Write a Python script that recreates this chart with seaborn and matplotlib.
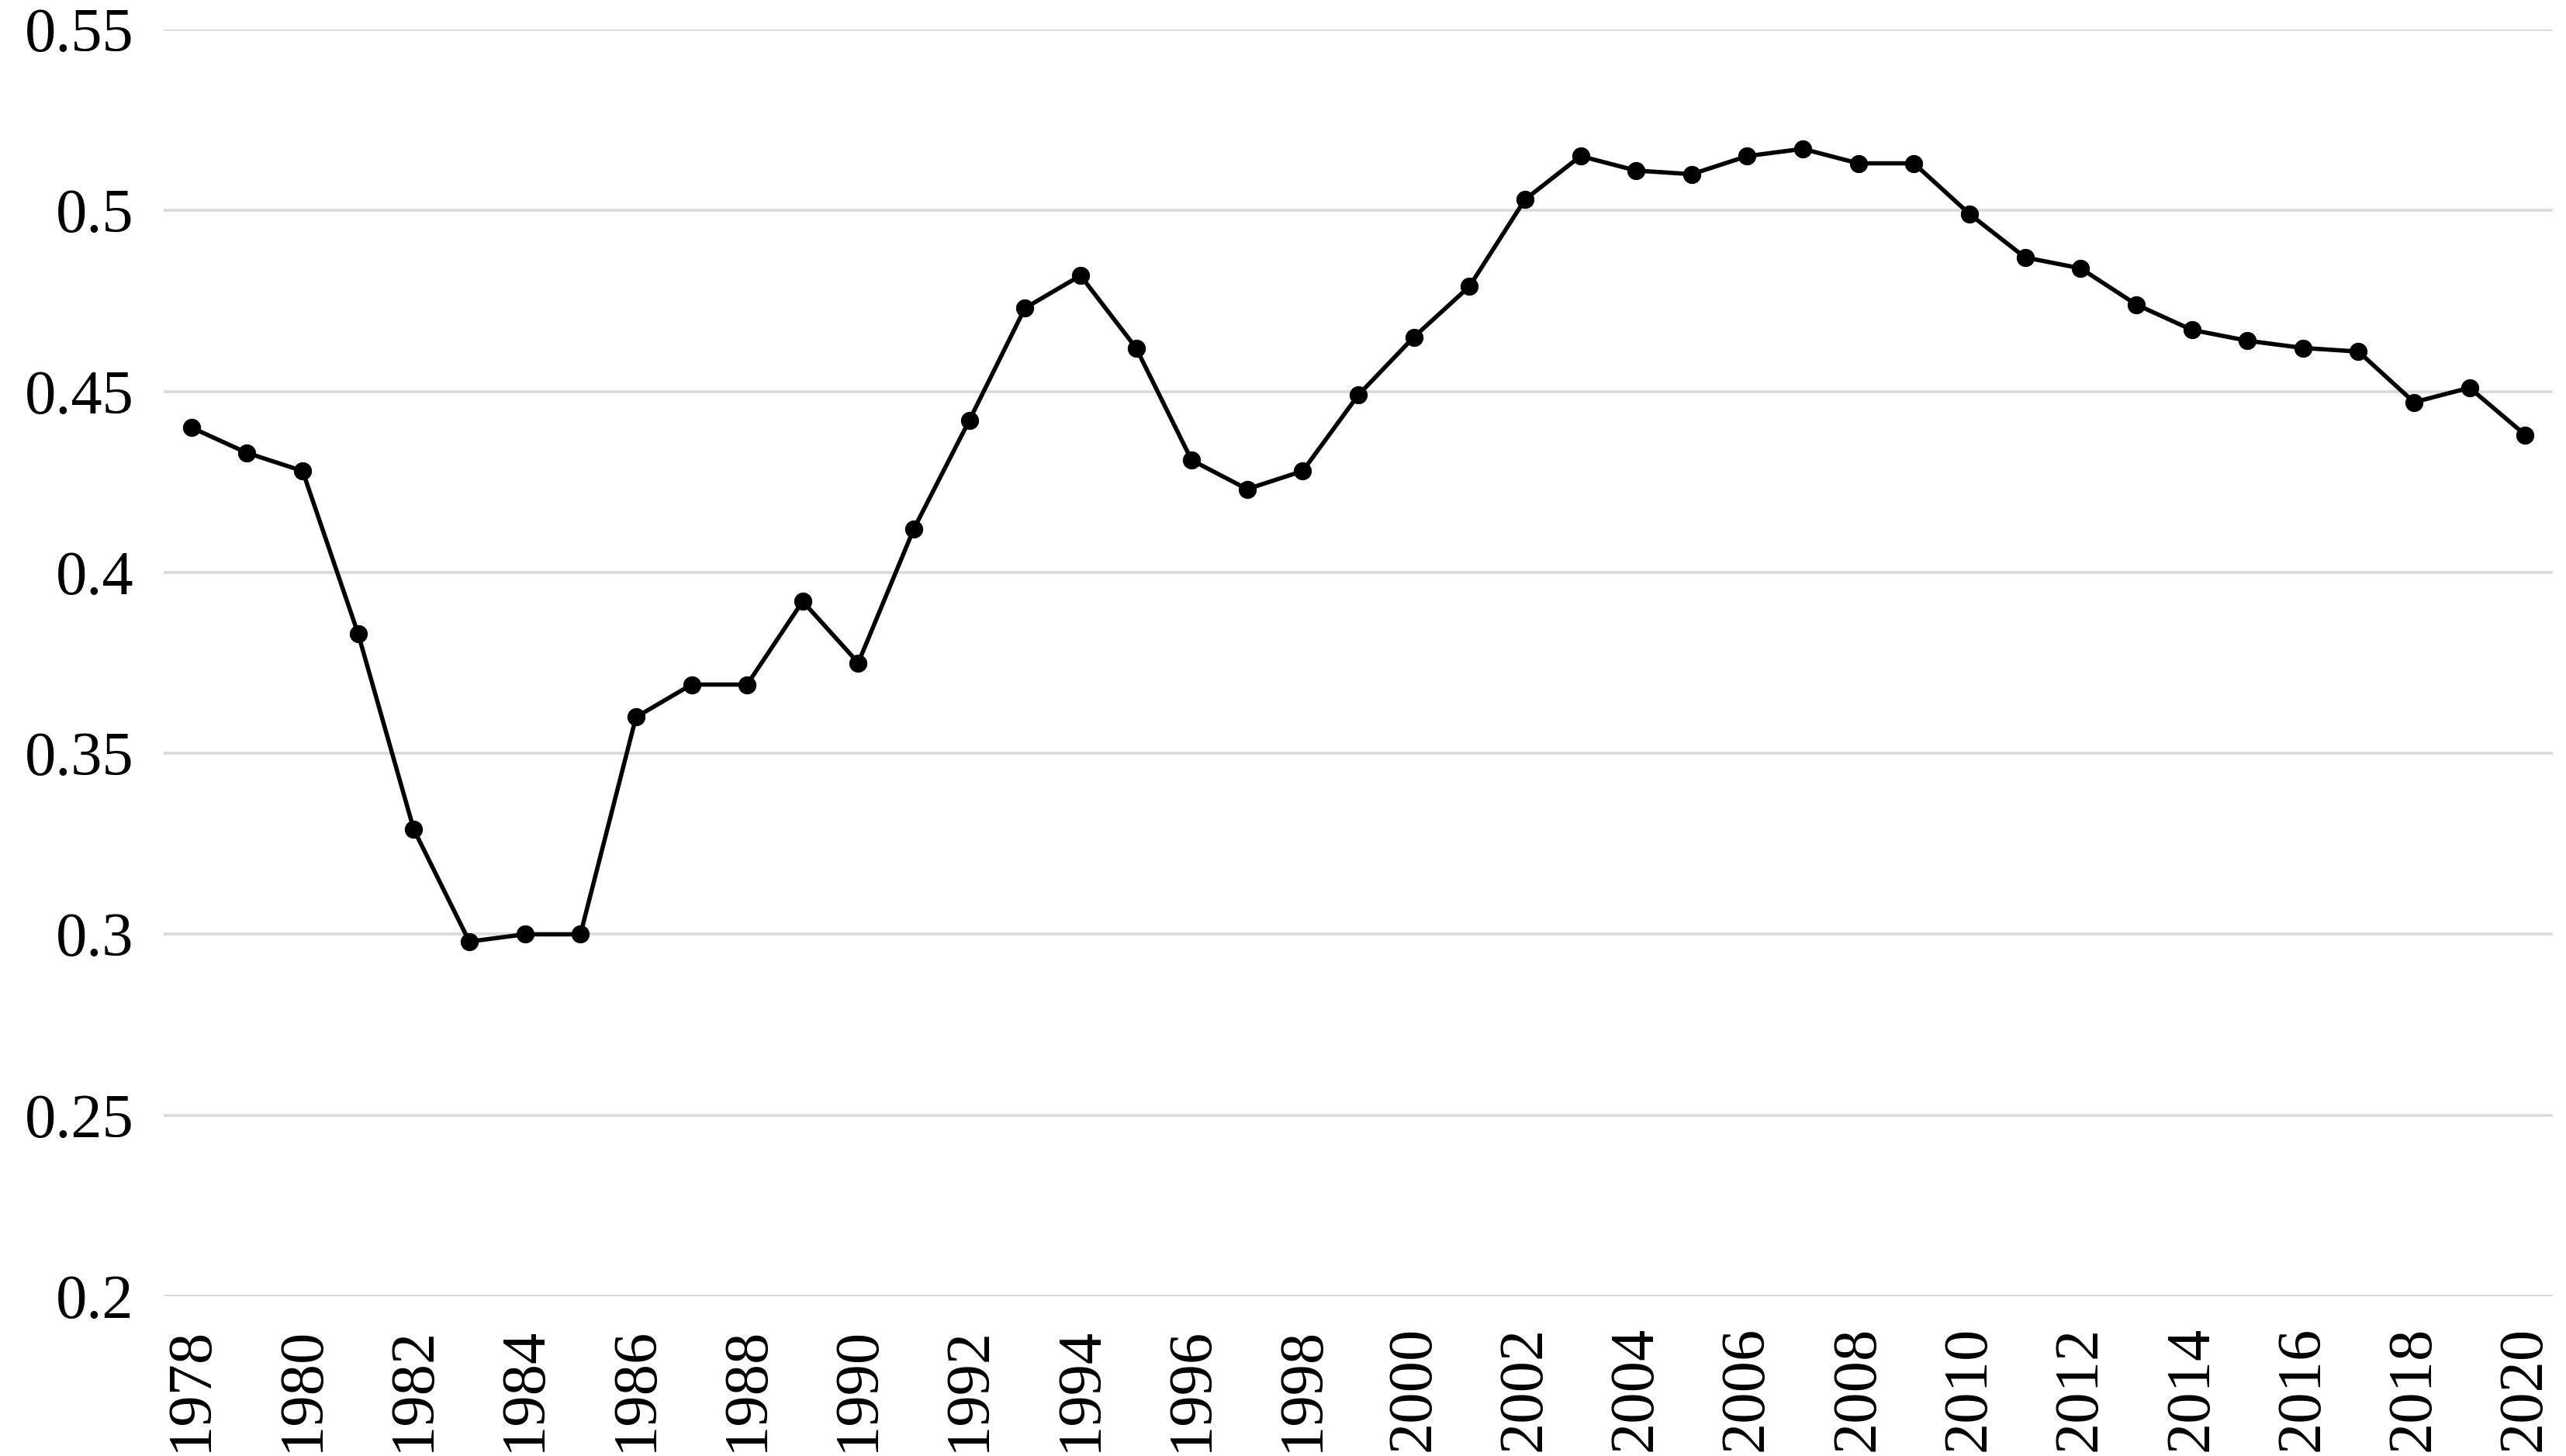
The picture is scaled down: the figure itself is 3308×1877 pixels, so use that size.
import matplotlib
matplotlib.use("Agg")
import matplotlib.pyplot as plt
import seaborn as sns
import pandas as pd

years = list(range(1978, 2021))
values = [
    0.440, 0.433, 0.428, 0.383, 0.329, 0.298, 0.300, 0.300, 0.360, 0.369,
    0.369, 0.392, 0.375, 0.412, 0.442, 0.473, 0.482, 0.462, 0.431, 0.423,
    0.428, 0.449, 0.465, 0.479, 0.503, 0.515, 0.511, 0.510, 0.515, 0.517,
    0.513, 0.513, 0.499, 0.487, 0.484, 0.474, 0.467, 0.464, 0.462, 0.461,
    0.447, 0.451, 0.438,
]
yticks = [0.2, 0.25, 0.3, 0.35, 0.4, 0.45, 0.5, 0.55]
ytick_labels = ["0.2", "0.25", "0.3", "0.35", "0.4", "0.45", "0.5", "0.55"]

df = pd.DataFrame({"year": years, "value": values})

sns.set_style("white")
plt.rcParams["font.family"] = ["Liberation Serif", "DejaVu Serif"]

fig = plt.figure(figsize=(33.08, 18.77), dpi=100)
ax = fig.add_axes([0.0638, 0.1097, 0.9311, 0.8701])

sns.lineplot(df, x="year", y="value", ax=ax, color="black", linewidth=4,
             marker="o", markersize=16, markeredgecolor="black", zorder=3)

ax.set_xlim(1977.5, 2020.5)
ax.set_ylim(0.2, 0.55)
ax.set_yticks(yticks, ytick_labels)
ax.set_xticks(years[::2], [str(y) for y in years[::2]], rotation=90)
ax.grid(axis="y", color="#d9d9d9", linewidth=2.6, zorder=0)
ax.tick_params(axis="both", length=0, labelsize=58, pad=28, labelcolor="black")
ax.set_xlabel("")
ax.set_ylabel("")
sns.despine(ax=ax, left=True, bottom=True)

fig.savefig("out.png", dpi=100)
